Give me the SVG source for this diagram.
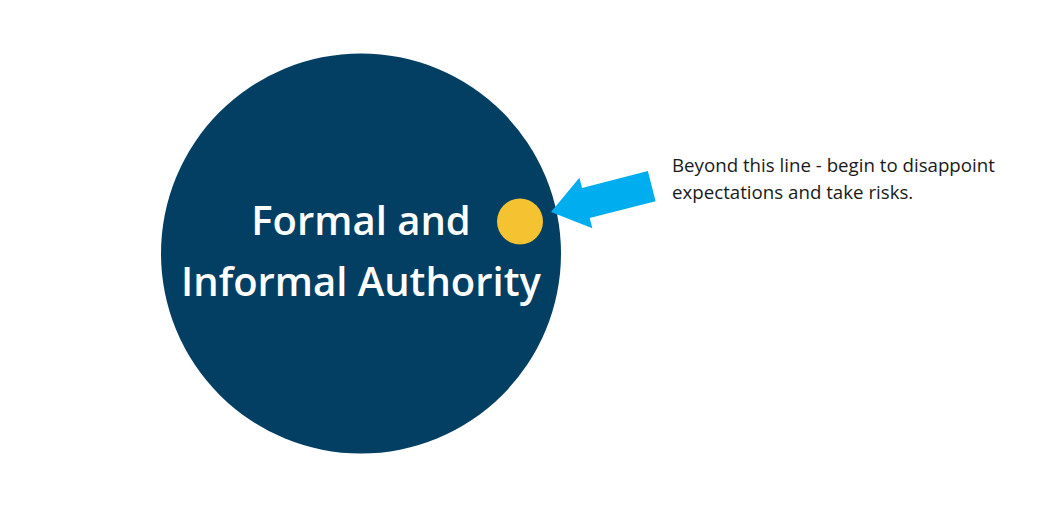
<svg xmlns="http://www.w3.org/2000/svg" width="1058" height="513" viewBox="0 0 1058 513">
<style>
.title{font-family:"Open Sans","Noto Sans",sans-serif;font-weight:600;font-size:40px;fill:#ffffff;text-anchor:middle}
.note{font-family:"Open Sans","Noto Sans",sans-serif;font-size:18.7px;fill:#1a1a1a}
</style>
<rect width="1058" height="513" fill="#ffffff"/>
<g id="authority">
<circle cx="361" cy="253.5" r="200" fill="#033F63"/>
<text class="title" x="361" y="235">Formal and</text>
<text class="title" x="361" y="296">Informal Authority</text>
</g>
<g id="dot">
<circle cx="520" cy="221.5" r="23" fill="#F5C332"/>
</g>
<g id="connectors">
<polygon transform="translate(551,212) rotate(-14.4)" points="0,0 36,-26 36,-15.5 104,-15.5 104,15.5 36,15.5 36,26" fill="#00AEEF"/>
</g>
<g id="note">
<text class="note" x="672" y="172">Beyond this line - begin to disappoint</text>
<text class="note" x="672" y="199">expectations and take risks.</text>
</g>
</svg>
